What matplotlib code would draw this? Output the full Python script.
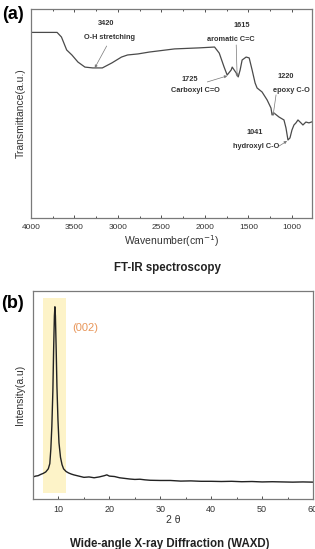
import matplotlib
matplotlib.use("Agg")
import matplotlib.pyplot as plt
from matplotlib.ticker import MultipleLocator

plt.rcParams['font.family'] = ['Liberation Sans', 'DejaVu Sans']

# --- FT-IR data ---
wavenumber = [4000, 3700, 3650, 3590, 3530, 3460, 3380, 3290, 3180, 3070,
              2960, 2890, 2770, 2640, 2350, 2065, 1890, 1836, 1780, 1745,
              1699, 1687, 1664, 1641, 1618, 1596, 1573, 1527, 1492, 1458,
              1424, 1401, 1344, 1286, 1241, 1229, 1206, 1149, 1092, 1069,
              1046, 1023, 1000, 977, 954, 931, 897, 874, 840, 805, 770]
transmittance = [88.8, 88.8, 86.6, 80.4, 78.0, 74.6, 72.2, 71.8, 71.8, 74.2,
                 77.0, 78.0, 78.5, 79.4, 80.9, 81.4, 81.8, 78.9, 72.2, 68.4,
                 70.8, 72.2, 70.8, 69.4, 67.5, 70.8, 75.6, 77.0, 76.6, 70.8,
                 64.6, 62.2, 60.3, 56.5, 52.6, 49.3, 50.2, 48.3, 46.9, 43.1,
                 37.3, 38.3, 42.1, 44.5, 45.5, 46.9, 45.5, 44.5, 45.9, 45.5, 46.0]

# peak labels: (number, name, number pos, name pos, arrow start, arrow tip)
ir_peaks = [
    ("3420", "O-H stretching", (3141, 93.3), (3095, 86.6), (3130, 82.3), (3267, 71.8)),
    ("1615", "aromatic C=C", (1573, 92.3), (1699, 85.6), (1641, 82.8), (1630, 67.5)),
    ("1725", "Carboxyl C=O", (2179, 66.5), (2111, 61.2), (1973, 65.1), (1744, 68.0)),
    ("1220", "epoxy C-O", (1069, 67.5), (1010, 60.8), (1183, 58.9), (1218, 48.8)),
    ("1041", "hydroxyl C-O", (1424, 40.7), (1412, 34.4), (1149, 34.4), (1057, 36.8)),
]

# --- WAXD data ---
two_theta = [5.0, 5.5, 6.0, 6.5, 7.0, 7.5, 8.0, 8.3, 8.5, 8.7, 8.9, 9.05, 9.2,
             9.3, 9.4, 9.55, 9.7, 9.9, 10.1, 10.4, 10.7, 11.0, 11.5, 12.0,
             12.5, 13, 14, 15, 16, 17, 18, 19, 19.5, 20, 21, 22, 23, 24, 25,
             26, 27, 28, 30, 32, 34, 36, 38, 40, 42, 44, 46, 48, 50, 52, 54,
             56, 58, 60]
intensity = [10.6, 11.0, 11.2, 11.8, 12.3, 13.0, 14.5, 17, 24, 35, 52, 72, 88,
             92.4, 88, 72, 54, 38, 27, 20, 16.5, 14.5, 13.2, 12.5,
             12.0, 11.6, 11.0, 10.4, 10.6, 10.2, 10.6, 11.2, 11.6, 11.0, 10.8,
             10.2, 9.9, 9.6, 9.4, 9.5, 9.2, 9.0, 8.9, 8.9, 8.6, 8.7, 8.5, 8.5,
             8.4, 8.5, 8.3, 8.4, 8.2, 8.3, 8.2, 8.1, 8.2, 8.1]
band_lo, band_hi = 7.0, 11.4

fig = plt.figure(figsize=(3.15, 5.49), dpi=100)
spine_col = '#7a7a7a'
tick_col = '#333333'

# ---- (a) FT-IR ----
ax1 = fig.add_axes([0.0984, 0.603, 0.892, 0.3806])
ax1.plot(wavenumber, transmittance, color='#4a4a4a', lw=0.9)
ax1.set_xlim(4000, 770)
ax1.set_ylim(0, 100)
ax1.set_yticks([])
ax1.xaxis.set_major_locator(MultipleLocator(500))
ax1.xaxis.set_minor_locator(MultipleLocator(250))
ax1.tick_params(axis='x', which='both', direction='in', top=True,
                labelsize=6, colors=tick_col, length=2.5, width=0.6, pad=4)
ax1.tick_params(axis='x', which='minor', length=1.5)
for s in ax1.spines.values():
    s.set_color(spine_col)
    s.set_linewidth(0.9)
ax1.set_xlabel('Wavenumber(cm$^{-1}$)', fontsize=7.5, color='#333333', labelpad=2)
ax1.set_ylabel('Transmittance(a.u.)', fontsize=7.5, color='#333333', labelpad=4)

for num, name, pnum, pname, a0, a1 in ir_peaks:
    ax1.text(*pnum, num, fontsize=5.3, fontweight='bold', ha='center', va='center', color='#333333')
    ax1.text(*pname, name, fontsize=5.3, fontweight='bold', ha='center', va='center', color='#333333')
    ax1.annotate('', xy=a1, xytext=a0,
                 arrowprops=dict(arrowstyle='-|>', color='#777777', lw=0.5,
                                 mutation_scale=4, shrinkA=0, shrinkB=0))

fig.text(0.041, 0.973, '(a)', fontsize=13, fontweight='bold', ha='center', va='center')
fig.text(0.53, 1 - 268 / 549, 'FT-IR spectroscopy', fontsize=8.3, fontweight='bold',
         ha='center', va='center', color='#222222')

# ---- (b) WAXD ----
ax2 = fig.add_axes([0.1048, 0.0911, 0.889, 0.3789])
ax2.fill_between([band_lo, band_hi], 2.9, 96.6, color='#fdf3c8', lw=0)
ax2.plot(two_theta, intensity, color='#222222', lw=1.0)
ax2.set_xlim(5, 60)
ax2.set_ylim(0, 100)
ax2.set_yticks([])
ax2.xaxis.set_major_locator(MultipleLocator(10))
ax2.xaxis.set_minor_locator(MultipleLocator(5))
ax2.tick_params(axis='x', which='both', direction='in', labelsize=6.5,
                colors=tick_col, length=2.5, width=0.6, pad=4)
ax2.tick_params(axis='x', which='minor', length=1.5)
for s in ax2.spines.values():
    s.set_color(spine_col)
    s.set_linewidth(0.9)
ax2.set_xlabel('2 θ', fontsize=7.5, color='#333333', labelpad=1)
ax2.set_ylabel('Intensity(a.u)', fontsize=7.5, color='#333333', labelpad=6)
ax2.text(15.2, 82.2, '(002)', fontsize=8, color='#e8965a', ha='center', va='center')

fig.text(0.041, 1 - 303 / 549, '(b)', fontsize=13, fontweight='bold', ha='center', va='center')
fig.text(0.54, 1 - 538 / 549, 'Wide-angle X-ray Diffraction (WAXD)', fontsize=8.3,
         fontweight='bold', ha='center', va='top', color='#222222')

fig.savefig('out.png', dpi=100)
